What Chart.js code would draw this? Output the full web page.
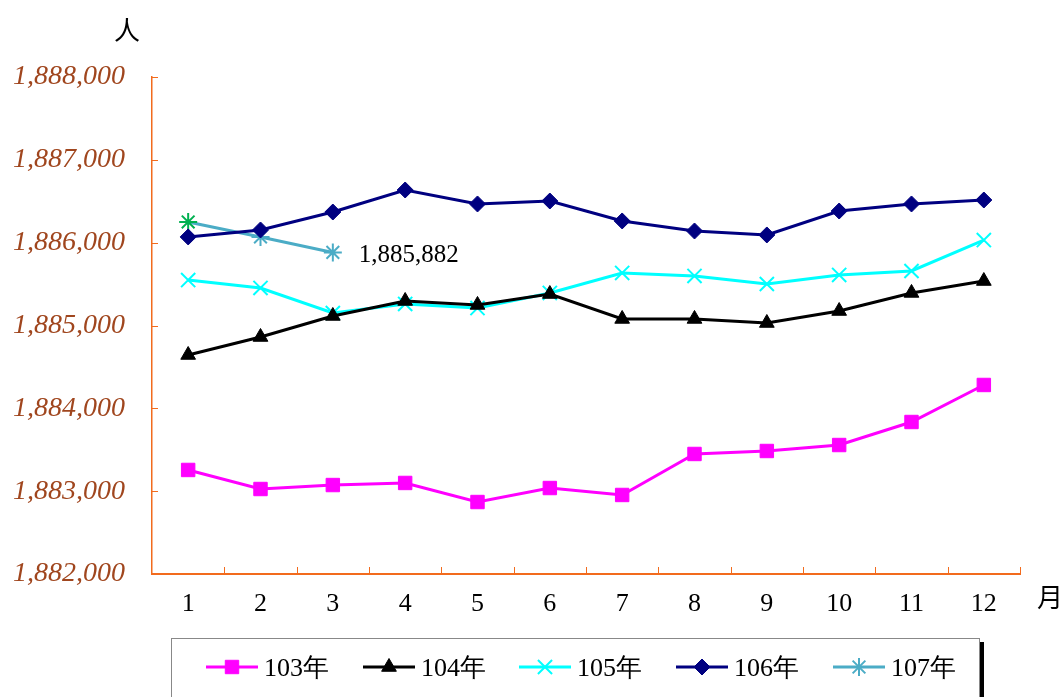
<!DOCTYPE html>
<html>
<head>
<meta charset="utf-8">
<script src="https://cdn.jsdelivr.net/npm/chart.js@4"></script>
<style>
  html, body { margin: 0; padding: 0; background: #fff; }
  #wrap { width: 1064px; height: 697px; position: relative; }
</style>
</head>
<body>
<div id="wrap"><canvas id="chart"></canvas></div>
<script>
// DATA
const months = ["1", "2", "3", "4", "5", "6", "7", "8", "9", "10", "11", "12"];
const seriesNames = ["103年", "104年", "105年", "106年", "107年"];
const y103 = [1883256, 1883026, 1883074, 1883099, 1882869, 1883038, 1882954, 1883449, 1883485, 1883557, 1883835, 1884282];
const y104 = [1884644, 1884861, 1885115, 1885296, 1885248, 1885380, 1885079, 1885079, 1885030, 1885175, 1885393, 1885537];
const y105 = [1885549, 1885453, 1885151, 1885260, 1885211, 1885393, 1885634, 1885598, 1885501, 1885610, 1885658, 1886032];
const y106 = [1886069, 1886153, 1886370, 1886636, 1886467, 1886503, 1886262, 1886141, 1886093, 1886382, 1886467, 1886515];
const y107 = [1886250, 1886069, 1885882];
const yTicks = [1882000, 1883000, 1884000, 1885000, 1886000, 1887000, 1888000];

const axisColor = "#F26B1D";
const fmt = v => Number(v).toLocaleString("en-US");

function drawMarker(ctx, ds, x, y) {
  Chart.helpers.drawPoint(ctx, {
    pointStyle: ds.pointStyle, radius: ds.pointRadius, borderWidth: ds.pointBorderWidth, rotation: 0
  }, x, y);
}

// inward tick marks, unit labels, data label and boxed legend
const extras = {
  id: "extras",
  afterDraw(chart) {
    const ctx = chart.ctx;
    const ys = chart.scales.y;
    const a = chart.chartArea;
    ctx.save();
    ctx.strokeStyle = axisColor;
    ctx.lineWidth = 1;
    yTicks.forEach(v => {
      const py = Math.round(ys.getPixelForValue(v)) + 0.5;
      ctx.beginPath(); ctx.moveTo(a.left, py); ctx.lineTo(a.left + 6, py); ctx.stroke();
    });
    const cw = (a.right - a.left) / months.length;
    for (let i = 1; i <= months.length; i++) {
      const px = Math.round(a.left + i * cw) + 0.5;
      ctx.beginPath(); ctx.moveTo(px, a.bottom); ctx.lineTo(px, a.bottom - 7); ctx.stroke();
    }

    // unit labels
    ctx.fillStyle = "#000";
    ctx.font = "26px 'Noto Sans CJK TC'";
    ctx.textAlign = "center";
    ctx.textBaseline = "middle";
    ctx.fillText("人", 127, 30);
    ctx.fillText("月", 1050, 597);

    // last value label of 107
    const m = chart.getDatasetMeta(4).data[y107.length - 1];
    ctx.font = "25px 'Liberation Serif'";
    ctx.textAlign = "left";
    ctx.fillText(fmt(y107[y107.length - 1]), m.x + 26, m.y + 3);

    // legend box
    ctx.strokeStyle = "#888";
    ctx.lineWidth = 1;
    ctx.strokeRect(171.5, 638.5, 808, 70);
    ctx.fillStyle = "#000";
    ctx.fillRect(980, 642, 4, 60);
    const lx = [206, 363, 519, 676, 833];
    ctx.font = "26px 'Liberation Serif'";
    chart.data.datasets.forEach((ds, i) => {
      const x0 = lx[i], cy = 667;
      ctx.strokeStyle = ds.borderColor;
      ctx.lineWidth = 3;
      ctx.beginPath(); ctx.moveTo(x0, cy); ctx.lineTo(x0 + 52, cy); ctx.stroke();
      ctx.fillStyle = ds.backgroundColor;
      ctx.lineWidth = ds.pointBorderWidth;
      drawMarker(ctx, ds, x0 + 26, cy);
      ctx.fillStyle = "#000";
      ctx.fillText(seriesNames[i], x0 + 58, cy + 2);
    });
    ctx.restore();
  }
};

const datasets = [
  { label: seriesNames[0], data: y103, borderColor: "#FF00FF", backgroundColor: "#FF00FF",
    pointStyle: "rect", pointRadius: 9.5, pointBorderWidth: 1, borderWidth: 3 },
  { label: seriesNames[1], data: y104, borderColor: "#000000", backgroundColor: "#000000",
    pointStyle: "triangle", pointRadius: 8.5, pointBorderWidth: 1, borderWidth: 3 },
  { label: seriesNames[2], data: y105, borderColor: "#00FFFF", backgroundColor: "#00FFFF",
    pointStyle: "crossRot", pointRadius: 10, pointBorderWidth: 2, borderWidth: 3 },
  { label: seriesNames[3], data: y106, borderColor: "#000080", backgroundColor: "#000080",
    pointStyle: "rectRot", pointRadius: 8, pointBorderWidth: 1, borderWidth: 3 },
  { label: seriesNames[4], data: y107, borderColor: "#4BACC6", backgroundColor: "#4BACC6",
    pointBorderColor: ["#00B050", "#4BACC6", "#4BACC6"],
    pointStyle: "star", pointRadius: 9, pointBorderWidth: 2, borderWidth: 3 }
];

new Chart(document.getElementById("chart"), {
  type: "line",
  data: { labels: months, datasets: datasets },
  options: {
    responsive: true,
    maintainAspectRatio: false,
    animation: false,
    layout: { padding: { top: 77, right: 44, left: 0, bottom: 0 } },
    plugins: { legend: { display: false }, tooltip: { enabled: false } },
    elements: { line: { tension: 0 } },
    scales: {
      x: {
        type: "category",
        offset: true,
        grid: { display: false, drawTicks: false, tickLength: 0 },
        border: { display: true, color: axisColor, width: 2 },
        ticks: { color: "#000", font: { family: "Liberation Serif", size: 26 }, padding: 15, maxRotation: 0 },
        afterFit: s => { s.height = 123; }
      },
      y: {
        min: 1882000,
        max: 1888000,
        grid: { display: false, drawTicks: false, tickLength: 0 },
        border: { display: true, color: axisColor, width: 1.5 },
        ticks: {
          stepSize: 1000,
          color: "#A0461E",
          font: { family: "Liberation Serif", size: 28, style: "italic" },
          padding: 27,
          callback: v => fmt(v)
        },
        afterFit: s => { s.width = 152; }
      }
    }
  },
  plugins: [extras]
});
</script>
</body>
</html>
